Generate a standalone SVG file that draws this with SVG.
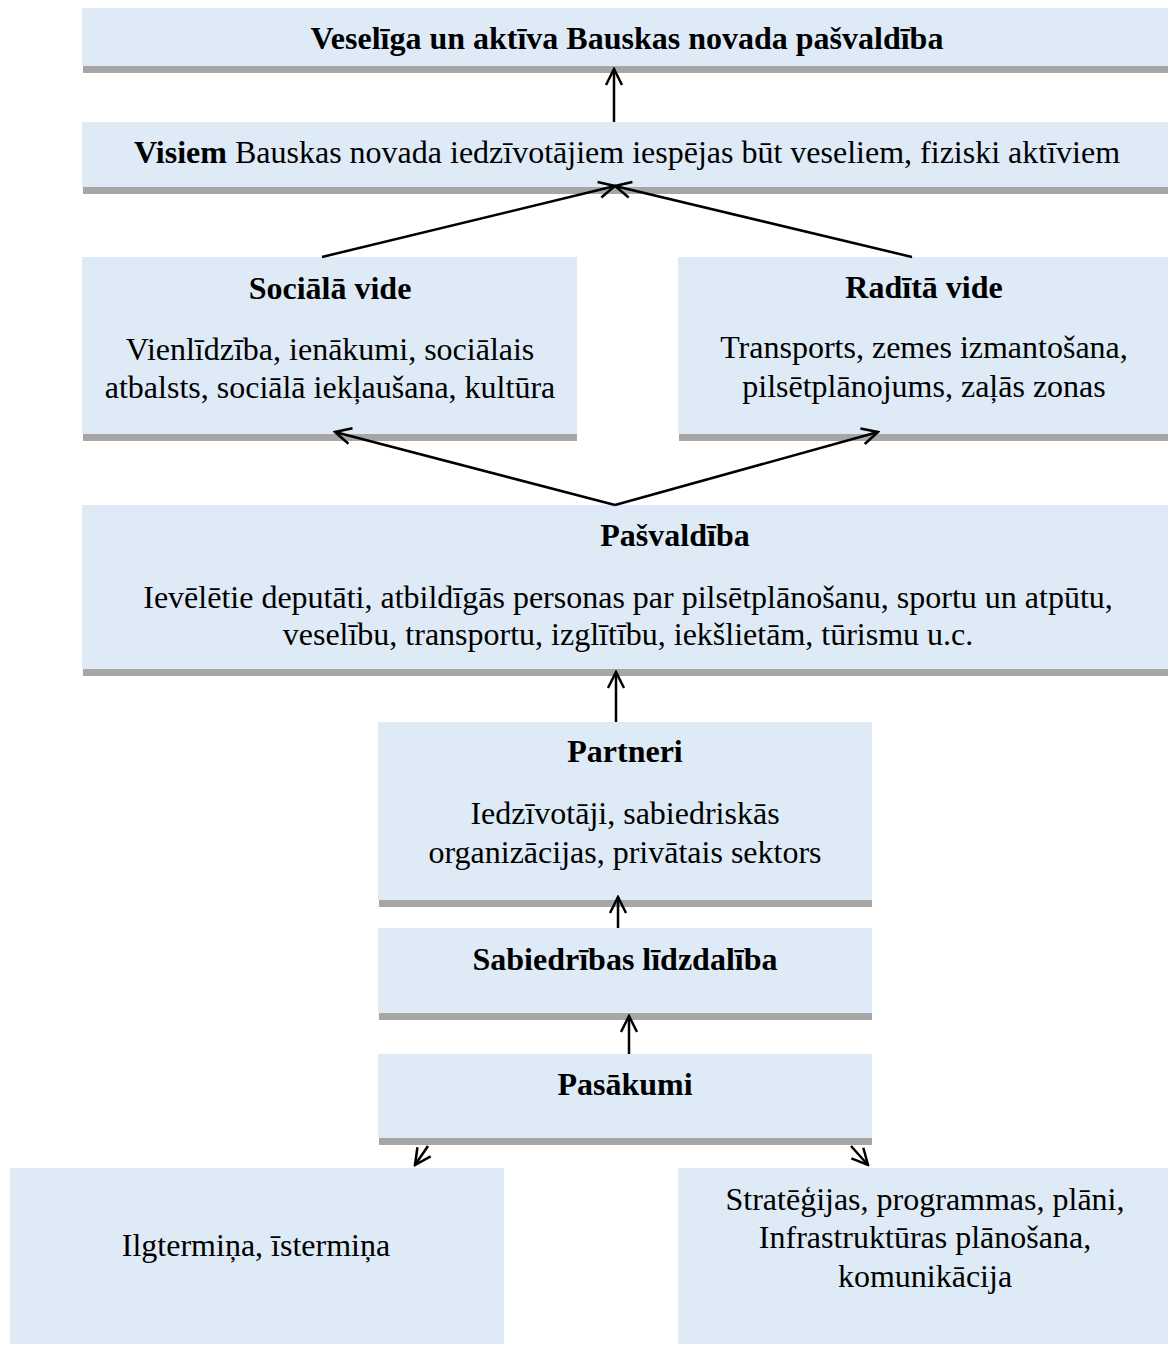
<svg xmlns="http://www.w3.org/2000/svg" width="1168" height="1345" viewBox="0 0 1168 1345">
<style>
.box{fill:#DEEAF6}
.sh{fill:#A6A6A6}
text{font-family:"Liberation Serif","Times New Roman",serif;font-size:32px;fill:#000;text-anchor:middle}
.b{font-weight:bold}
.c{stroke:#000;stroke-width:2.5;fill:none;marker-end:url(#ah)}
</style>
<defs>
<marker id="ah" viewBox="0 0 20 20" refX="18" refY="10" markerWidth="20" markerHeight="20" markerUnits="userSpaceOnUse" orient="auto">
<path d="M2,2 L18,10 L2,18" fill="none" stroke="#000" stroke-width="2.5"/>
</marker>
</defs>
<g id="n1"><rect class="sh" x="83" y="66" width="1085" height="7"/><rect class="box" x="82" y="8" width="1086" height="58"/><text class="b" x="627" y="49">Veselīga un aktīva Bauskas novada pašvaldība</text></g>
<g id="n2"><rect class="sh" x="83" y="187" width="1085" height="7"/><rect class="box" x="82" y="122" width="1086" height="65"/><text x="627" y="163"><tspan class="b">Visiem</tspan> Bauskas novada iedzīvotājiem iespējas būt veseliem, fiziski aktīviem</text></g>
<g id="n3"><rect class="sh" x="83" y="434" width="494" height="7"/><rect class="box" x="82" y="257" width="495" height="177"/><text class="b" x="330" y="299">Sociālā vide</text><text x="330" y="360">Vienlīdzība, ienākumi, sociālais</text><text x="330" y="398">atbalsts, sociālā iekļaušana, kultūra</text></g>
<g id="n4"><rect class="sh" x="679" y="434" width="489" height="7"/><rect class="box" x="678" y="257" width="490" height="177"/><text class="b" x="924" y="298">Radītā vide</text><text x="924" y="358">Transports, zemes izmantošana,</text><text x="924" y="397">pilsētplānojums, zaļās zonas</text></g>
<g id="n5"><rect class="sh" x="83" y="669" width="1085" height="7"/><rect class="box" x="82" y="505" width="1086" height="164"/><text class="b" x="675" y="546">Pašvaldība</text><text x="628" y="608">Ievēlētie deputāti, atbildīgās personas par pilsētplānošanu, sportu un atpūtu,</text><text x="628" y="645">veselību, transportu, izglītību, iekšlietām, tūrismu u.c.</text></g>
<g id="n6"><rect class="sh" x="379" y="900" width="493" height="7"/><rect class="box" x="378" y="722" width="494" height="178"/><text class="b" x="625" y="762">Partneri</text><text x="625" y="824">Iedzīvotāji, sabiedriskās</text><text x="625" y="863">organizācijas, privātais sektors</text></g>
<g id="n7"><rect class="sh" x="379" y="1013" width="493" height="7"/><rect class="box" x="378" y="928" width="494" height="85"/><text class="b" x="625" y="970">Sabiedrības līdzdalība</text></g>
<g id="n8"><rect class="sh" x="379" y="1138" width="493" height="7"/><rect class="box" x="378" y="1054" width="494" height="84"/><text class="b" x="625" y="1095">Pasākumi</text></g>
<g id="n9"><rect class="box" x="10" y="1168" width="494" height="176"/><text x="256" y="1256">Ilgtermiņa, īstermiņa</text></g>
<g id="n10"><rect class="box" x="678" y="1168" width="490" height="176"/><text x="925" y="1210">Stratēģijas, programmas, plāni,</text><text x="925" y="1248">Infrastruktūras plānošana,</text><text x="925" y="1287">komunikācija</text></g>
<g id="connectors">
<line class="c" x1="614" y1="122" x2="614" y2="69"/>
<line class="c" x1="322" y1="257" x2="615" y2="186"/>
<line class="c" x1="912" y1="257" x2="615" y2="186"/>
<line class="c" x1="615" y1="505" x2="335" y2="432"/>
<line class="c" x1="615" y1="505" x2="878" y2="432"/>
<line class="c" x1="616" y1="722" x2="616" y2="672"/>
<line class="c" x1="618" y1="928" x2="618" y2="897"/>
<line class="c" x1="629" y1="1054" x2="629" y2="1016"/>
<line class="c" x1="428" y1="1146" x2="415" y2="1165"/>
<line class="c" x1="851" y1="1146" x2="868" y2="1165"/>
</g>
</svg>
